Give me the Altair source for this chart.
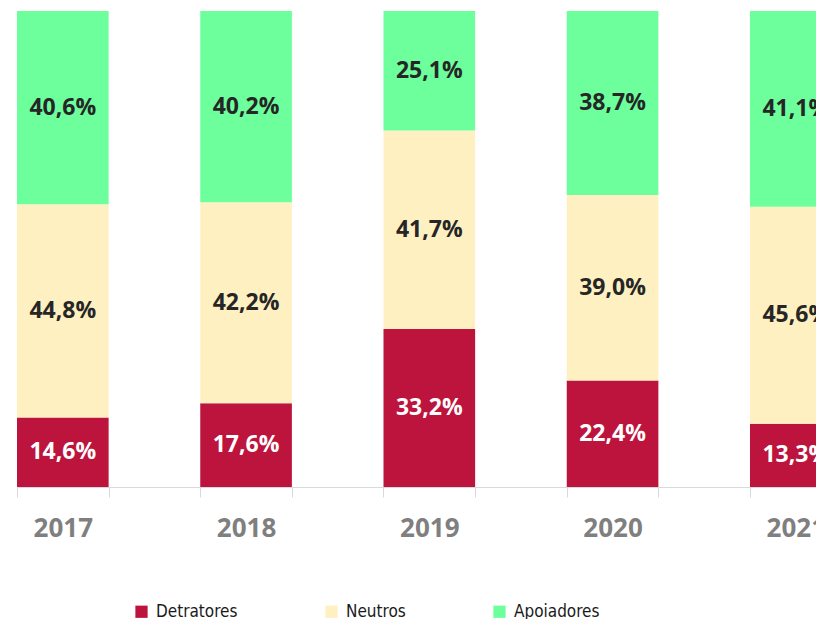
import altair as alt
import pandas as pd

years = [2017, 2018, 2019, 2020, 2021]
categories = ["Detratores", "Neutros", "Apoiadores"]
detratores = [14.6, 17.6, 33.2, 22.4, 13.3]
neutros = [44.8, 42.2, 41.7, 39.0, 45.6]
apoiadores = [40.6, 40.2, 25.1, 38.7, 41.1]
colors = ["#BC143C", "#FFF0C2", "#6CFF9B"]
text_colors = ["#FFFFFF", "#262626", "#262626"]

rows = []
for i, yr in enumerate(years):
    for k, (cat, series) in enumerate(zip(categories, [detratores, neutros, apoiadores])):
        rows.append({"year": yr, "cat": cat, "order": k, "value": series[i],
                     "label": f"{series[i]:.1f}".replace(".", ",") + "%"})
df = pd.DataFrame(rows)

step_px = 183.25
x0_year = 2016.75
plot_w = 799
plot_h = 476
x_max = x0_year + plot_w / step_px

edges = [yr - 0.25 for yr in years] + [yr + 0.25 for yr in years[:-1]]
axis_values = sorted(edges + years)

base = alt.Chart(df).transform_stack(
    stack="value", groupby=["year"], as_=["v0", "v1"],
    sort=[alt.SortField("order", "ascending")], offset="normalize"
).transform_calculate(
    xa="datum.year - 0.25", xb="datum.year + 0.25", mid="(datum.v0 + datum.v1) / 2"
)

xscale = alt.Scale(domain=[x0_year, x_max], zero=False, nice=False)
yscale = alt.Scale(domain=[0, 1], nice=False)

xaxis = alt.Axis(
    values=axis_values, title=None, grid=False,
    domainColor="#D9D9D9", domainWidth=1,
    tickColor="#D9D9D9", tickSize=10, tickWidth=1,
    tickOpacity={"condition": {"test": "datum.value % 1 === 0", "value": 0}, "value": 1},
    labelExpr="datum.value % 1 === 0 ? '' + datum.value : ''",
    labelFont="Open Sans", labelFontWeight="bold", labelFontSize=26, labelColor="#7F7F7F",
    labelPadding=18, labelOverlap=False, labelFlush=False, labelBound=False,
)

bars = base.mark_bar(clip=True).encode(
    x=alt.X("xa:Q", scale=xscale, axis=xaxis),
    x2="xb:Q",
    y=alt.Y("v0:Q", scale=yscale, axis=None),
    y2="v1:Q",
    color=alt.Color(
        "cat:N",
        scale=alt.Scale(domain=categories, range=colors),
        legend=alt.Legend(
            title=None, orient="none", legendX=116, legendY=592,
            direction="horizontal", columns=3,
            symbolType="square", symbolSize=150, symbolStrokeWidth=0,
            labelFont="DejaVu Sans Condensed, Liberation Sans, sans-serif",
            labelFontSize=17, labelColor="#1A1A1A",
            columnPadding=85, labelOffset=6, padding=0,
        ),
    ),
)

text = base.mark_text(font="Open Sans", fontWeight="bold", fontSize=23, clip=True).encode(
    x=alt.X("year:Q", scale=xscale, axis=xaxis),
    y=alt.Y("mid:Q", scale=yscale, axis=None),
    text="label:N",
    color=alt.Color("cat:N", scale=alt.Scale(domain=categories, range=text_colors), legend=None),
)

chart = alt.layer(bars, text).resolve_scale(color="independent").properties(
    width=plot_w, height=plot_h,
    autosize=alt.AutoSizeParams(type="none"),
    padding={"left": 9, "top": 3, "right": 0, "bottom": 132},
    background="white",
).configure_view(stroke=None)

chart.save("out.html", embed_options={"renderer": "svg", "actions": False})
